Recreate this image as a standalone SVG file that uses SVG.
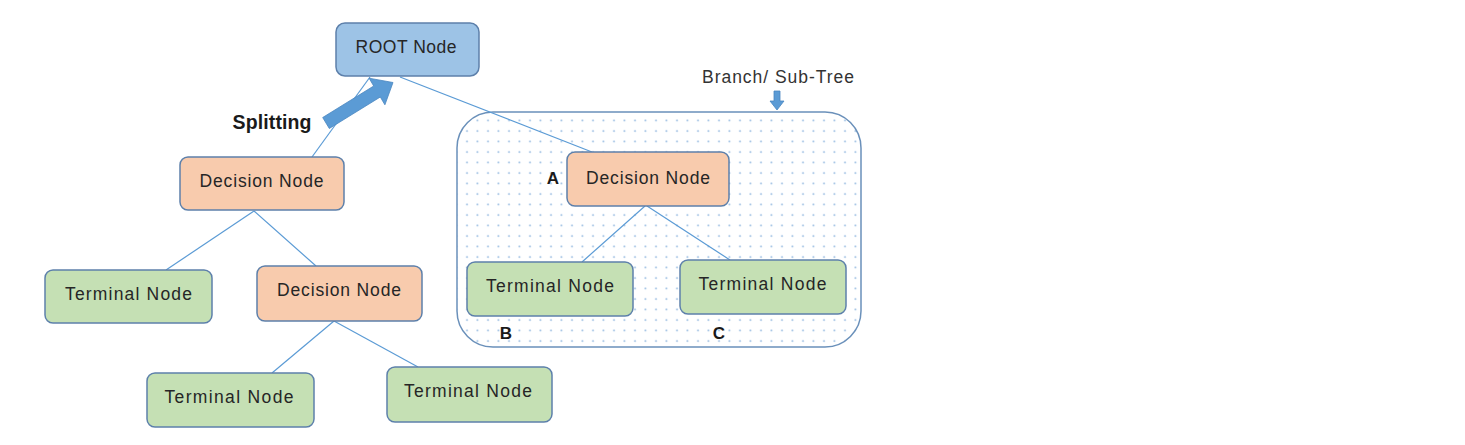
<svg xmlns="http://www.w3.org/2000/svg" width="1465" height="445" viewBox="0 0 1465 445">
  <style>
    .node rect { stroke: #5d80ab; stroke-width: 1.5; }
    .root rect { fill: #9dc3e6; }
    .dec rect { fill: #f8cbad; }
    .term rect { fill: #c5e0b4; }
    .lbl { font-family: "Liberation Sans", Arial, sans-serif; font-size: 17.5px; fill: #262626; text-anchor: middle; }
    .bold { font-family: "Liberation Sans", Arial, sans-serif; font-weight: bold; fill: #1a1a1a; text-anchor: middle; }
    .conn line { stroke: #5b9bd5; stroke-width: 1.2; }
  </style>
  <defs>
    <pattern id="dots" x="0" y="0" width="10.5" height="10.5" patternUnits="userSpaceOnUse">
      <circle cx="5" cy="5" r="1" fill="#9abde2"/>
    </pattern>
  </defs>
  <rect width="1465" height="445" fill="#ffffff"/>

  <g id="branch">
    <rect x="457" y="112" width="404" height="235" rx="36" ry="36" fill="url(#dots)" stroke="#6a90ba" stroke-width="1.5"/>
    <text x="778" y="83" class="lbl" textLength="152" lengthAdjust="spacing" style="fill:#333333">Branch/ Sub-Tree</text>
    <polygon points="774,91 780,91 780,101 784,101 777,110 770,101 774,101" fill="#5b9bd5" stroke="#4a86c0" stroke-width="0.8"/>
  </g>

  <g id="connectors" class="conn">
    <line x1="370" y1="77" x2="312" y2="157"/>
    <line x1="400" y1="77" x2="592" y2="152"/>
    <line x1="254" y1="211" x2="166" y2="270"/>
    <line x1="254" y1="211" x2="316" y2="266"/>
    <line x1="334" y1="321" x2="272" y2="373"/>
    <line x1="334" y1="321" x2="418" y2="367"/>
    <line x1="645" y1="206" x2="582" y2="262"/>
    <line x1="647" y1="206" x2="730" y2="260"/>
  </g>

  <g id="root" class="node root">
    <rect x="336" y="23" width="143" height="53" rx="9" ry="9"/>
    <text x="406" y="53" class="lbl" textLength="101" lengthAdjust="spacing">ROOT Node</text>
  </g>

  <g id="decision-left" class="node dec">
    <rect x="180" y="157" width="164" height="53" rx="8" ry="8"/>
    <text x="261.5" y="187" class="lbl" textLength="124" lengthAdjust="spacing">Decision Node</text>
  </g>

  <g id="decision-a" class="node dec">
    <rect x="567" y="152" width="162" height="54" rx="8" ry="8"/>
    <text x="648" y="183.5" class="lbl" textLength="124" lengthAdjust="spacing">Decision Node</text>
  </g>

  <g id="decision-lower" class="node dec">
    <rect x="257" y="266" width="165" height="55" rx="8" ry="8"/>
    <text x="339" y="296" class="lbl" textLength="124" lengthAdjust="spacing">Decision Node</text>
  </g>

  <g id="terminal-left" class="node term">
    <rect x="45" y="270" width="167" height="53" rx="8" ry="8"/>
    <text x="128.5" y="300" class="lbl" textLength="127" lengthAdjust="spacing">Terminal Node</text>
  </g>

  <g id="terminal-bottom-left" class="node term">
    <rect x="147" y="373" width="167" height="54" rx="8" ry="8"/>
    <text x="229" y="402.5" class="lbl" textLength="129" lengthAdjust="spacing">Terminal Node</text>
  </g>

  <g id="terminal-bottom-right" class="node term">
    <rect x="387" y="367" width="165" height="55" rx="8" ry="8"/>
    <text x="468" y="396.5" class="lbl" textLength="128" lengthAdjust="spacing">Terminal Node</text>
  </g>

  <g id="terminal-b" class="node term">
    <rect x="467" y="262" width="166" height="54" rx="8" ry="8"/>
    <text x="550" y="292" class="lbl" textLength="128" lengthAdjust="spacing">Terminal Node</text>
  </g>

  <g id="terminal-c" class="node term">
    <rect x="680" y="260" width="166" height="54" rx="8" ry="8"/>
    <text x="762.5" y="290" class="lbl" textLength="128" lengthAdjust="spacing">Terminal Node</text>
  </g>

  <g id="labels">
    <text x="553" y="184" class="bold" font-size="17">A</text>
    <text x="506" y="338.5" class="bold" font-size="17">B</text>
    <text x="719" y="338.5" class="bold" font-size="17">C</text>
  </g>

  <g id="splitting">
    <polygon points="322.7,117.5 373.7,86 369.1,78.2 393,82.5 384.9,104.8 380.3,97 329.3,128.5" fill="#5b9bd5" stroke="#4a86c0" stroke-width="0.8"/>
    <text x="272" y="128.5" class="bold" font-size="19.5" textLength="79" lengthAdjust="spacing">Splitting</text>
  </g>
</svg>
